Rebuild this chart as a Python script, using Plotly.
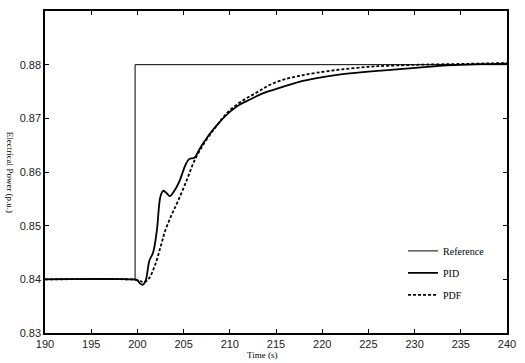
import plotly.graph_objects as go

# Data
ref_t = [190, 199.75, 199.75, 240]
ref_p = [0.84, 0.84, 0.88, 0.88]

pid_t = [190, 199.0, 200.0, 200.3, 200.6, 200.9, 201.3, 201.7, 202.1, 202.5, 202.8, 203.2, 203.5,
         204.0, 204.6, 205.2, 205.6, 206.2, 206.7, 207.3, 208.0, 209.0, 210.0, 211.0, 212.3,
         213.5, 215.8, 217.5, 219.4, 222.0, 225.0, 227.1, 230.7, 234.2, 237.0, 240.0]
pid_p = [0.84, 0.84, 0.8398, 0.8392, 0.839, 0.8398, 0.8435, 0.845, 0.849, 0.8555, 0.8565, 0.856, 0.8555,
         0.8565, 0.8585, 0.8613, 0.8624, 0.8627, 0.8642, 0.8658, 0.8675, 0.8695, 0.8712, 0.8725, 0.8736,
         0.8746, 0.8759, 0.8768, 0.8775, 0.8782, 0.8787, 0.8790, 0.8795, 0.8799, 0.8801, 0.8802]

pdf_t = [190, 199.0, 200.0, 200.4, 200.8, 201.3, 201.9, 202.5, 203.0, 203.7, 204.4, 205.3,
         206.2, 207.2, 208.3, 209.2, 210.0, 211.3, 212.9, 214.3, 215.8, 217.5, 219.4, 222.0,
         225.0, 227.1, 230.7, 234.2, 237.0, 240.0]
pdf_p = [0.84, 0.84, 0.8399, 0.8396, 0.8395, 0.8403, 0.8426, 0.846, 0.849, 0.852, 0.8546, 0.8583,
         0.8622, 0.8653, 0.868, 0.8700, 0.8715, 0.8732, 0.8748, 0.8762, 0.8772, 0.8779, 0.8785, 0.8791,
         0.8796, 0.8798, 0.8800, 0.8801, 0.8802, 0.8803]

x_ticks = [190, 195, 200, 205, 210, 215, 220, 225, 230, 235, 240]
y_ticks = [0.83, 0.84, 0.85, 0.86, 0.87, 0.88]

fig = go.Figure()
fig.add_trace(go.Scatter(x=ref_t, y=ref_p, mode="lines", name="Reference",
                         line=dict(color="black", width=1), legendgroup="a"))
fig.add_trace(go.Scatter(x=pid_t, y=pid_p, mode="lines", name="PID", line_shape="spline",
                         line=dict(color="black", width=1.8), legendgroup="b"))
fig.add_trace(go.Scatter(x=pdf_t, y=pdf_p, mode="lines", name="PDF", line_shape="spline",
                         line=dict(color="black", width=1.8, dash="3px,2px"), legendgroup="c"))

axis_common = dict(showgrid=False, zeroline=False, showline=True, linecolor="black", linewidth=1.5,
                   mirror="ticks", ticks="inside", ticklen=4, tickcolor="black",
                   tickfont=dict(family="Liberation Sans, Arial", size=11, color="#222"))

fig.update_layout(
    width=525, height=363,
    margin=dict(l=45, r=11, t=9, b=30),
    paper_bgcolor="white", plot_bgcolor="white",
    xaxis=dict(range=[190, 240], tickvals=x_ticks, **axis_common),
    yaxis=dict(range=[0.83, 0.89], tickvals=y_ticks, tickformat=".2f", **axis_common),
    legend=dict(x=0.775, y=0.30, xanchor="left", yanchor="top", bgcolor="rgba(0,0,0,0)",
                font=dict(family="Liberation Serif, Times New Roman", size=10, color="black"),
                tracegroupgap=3, itemwidth=30),
    showlegend=True,
    annotations=[
        dict(text="Time (s)", x=0.47, y=-0.068, xref="paper", yref="paper", showarrow=False,
             xanchor="center", yanchor="middle",
             font=dict(family="Liberation Serif, Times New Roman", size=9, color="black")),
        dict(text="Electrical Power (p.u.)", x=-0.075, y=0.5, xref="paper", yref="paper",
             showarrow=False, textangle=90, xanchor="center", yanchor="middle",
             font=dict(family="Liberation Serif, Times New Roman", size=9, color="black")),
    ],
)

fig.write_html("out.html")
